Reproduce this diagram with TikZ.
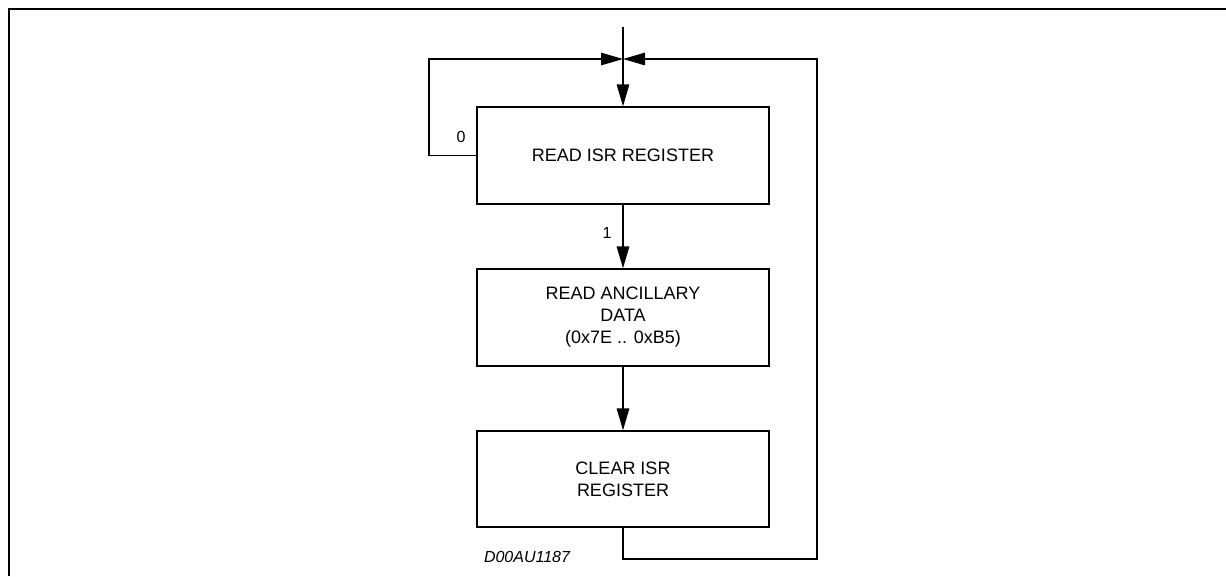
\documentclass[tikz,border=0pt]{standalone}
\usepackage{fontspec}
\setmainfont{Liberation Sans}
\usetikzlibrary{arrows.meta}
\begin{document}
\begin{tikzpicture}[x=1pt,y=-1pt,
  line width=1.3pt,
  stepbox/.style={draw, rectangle, minimum width=292pt, minimum height=97pt,
    inner sep=0pt, align=center, font=\fontsize{18}{22}\selectfont},
  flow/.style={-{Triangle[length=22pt,width=12.5pt]}},
  lbl/.style={inner sep=0pt, font=\fontsize{16}{19}\selectfont}]
\useasboundingbox (0,0) rectangle (1226,576);
% frame
\draw[line width=2pt] (9,576) -- (9,9.3) -- (1226,9.3);

% process steps
\node[stepbox] (b1) at (623,155.5) {READ ISR REGISTER};
\node[stepbox] (b2) at (623,317.5) {READ ANCILLARY\\DATA\\(0x7E .. 0xB5)};
\node[stepbox, minimum height=96pt] (b3) at (623,479) {CLEAR ISR\\REGISTER};

% junction and loop corners
\coordinate (top) at (623,27);
\coordinate (j) at (623,59);
\coordinate (lt) at (429,59);
\coordinate (rb) at (817,559);
\coordinate (rt) at (817,59);

% connectors
\draw[flow] (top) -- (b1.north);
\draw[flow] (b1.west) -| (lt) -- (j);
\draw[flow] (b3.south) |- (rb) -- (rt) -- (j);
\draw[flow] (b1.south) -- (b2.north);
\draw[flow] (b2.south) -- (b3.north);

% labels
\node[lbl] (l0) at (461,137) {0};
\node[lbl] (l1) at (607,233) {1};
\node[lbl, font=\fontsize{16}{19}\selectfont\itshape] (code) at (527,556.5) {D00AU1187};
\end{tikzpicture}
\end{document}
